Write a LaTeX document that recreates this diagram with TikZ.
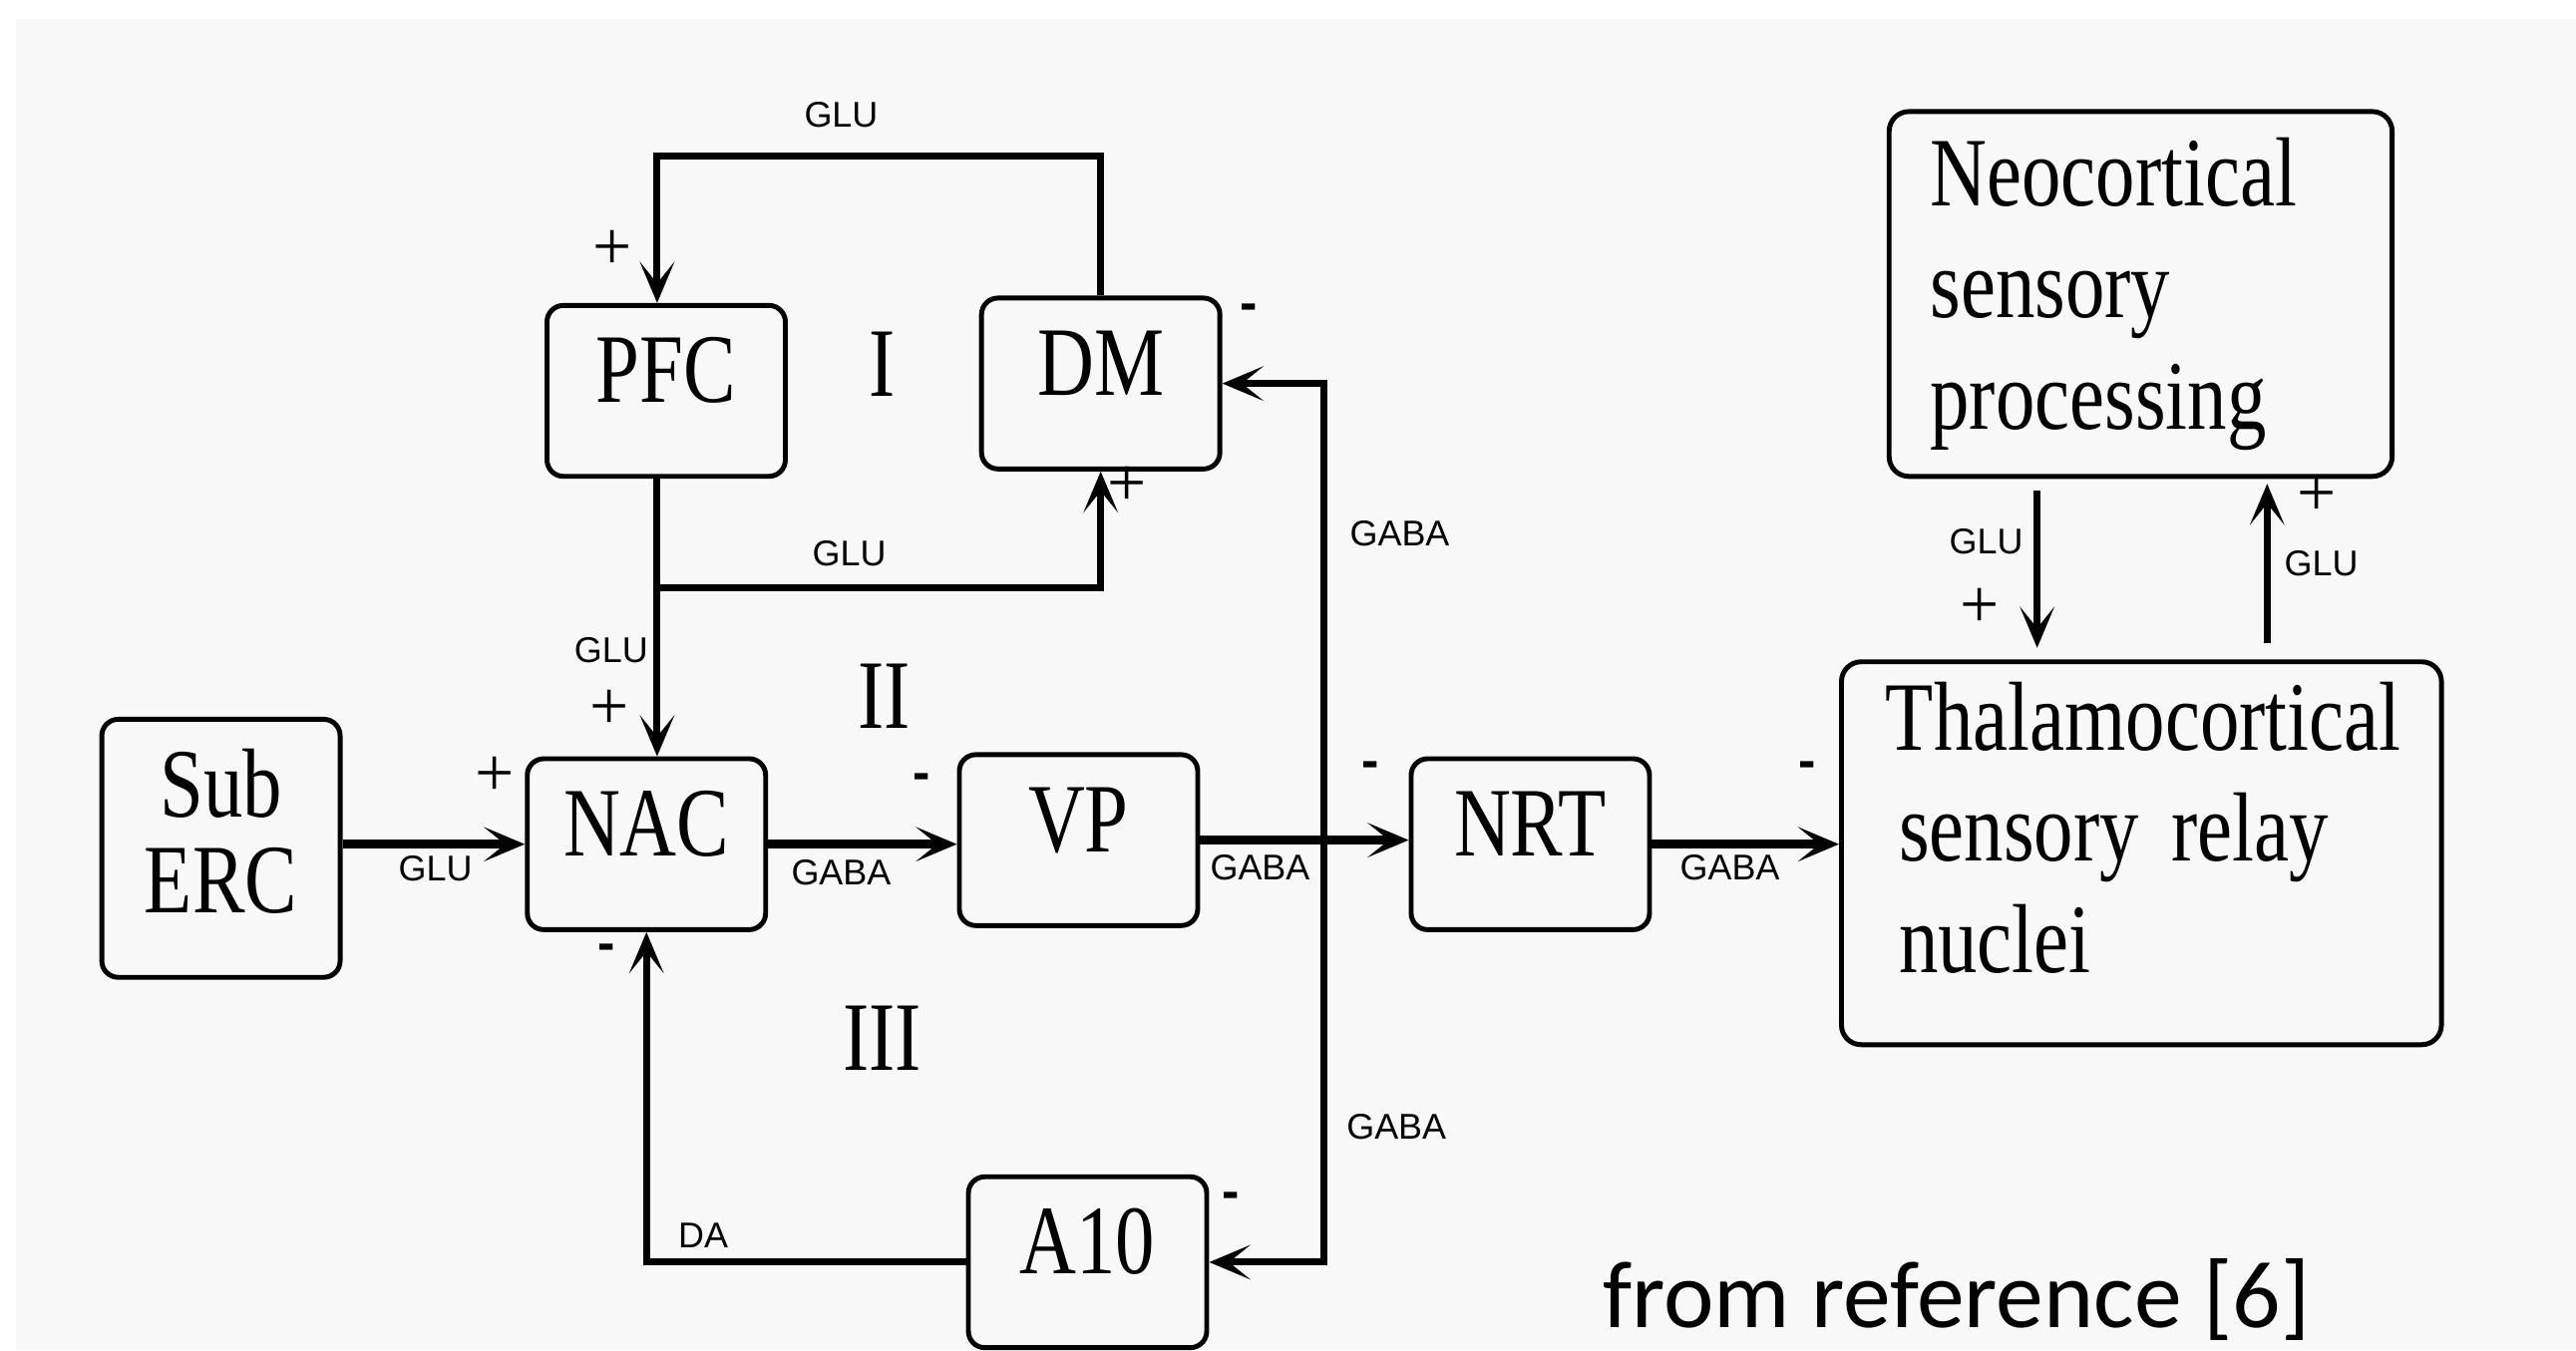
\documentclass[tikz,border=0pt]{standalone}
\usepackage{fontspec}
\setmainfont{Liberation Serif}
\newfontfamily\boxfont{Liberation Serif}[FakeStretch=0.8, WordSpace=0.5]
\newfontfamily\labfont{Liberation Sans}
\newfontfamily\notefont{Carlito}
\usetikzlibrary{arrows.meta}
\definecolor{paper}{HTML}{F8F8F8}

\begin{document}
\begin{tikzpicture}[x=0.01cm, y=-0.01cm,
  box/.style={draw, line width=0.85pt, rounded corners=0.1cm, inner sep=0pt,
    minimum width=1.45cm, minimum height=1.04cm,
    font=\boxfont\fontsize{17}{19.3}\selectfont, text height=12pt, text depth=8pt},
  bigbox/.style={draw, line width=0.85pt, rounded corners=0.12cm, inner ysep=0pt,
    font=\boxfont\fontsize{17}{19.3}\selectfont, align=left},
  roman/.style={font=\boxfont\fontsize{17}{19.3}\selectfont, inner sep=0pt},
  lab/.style={font=\labfont\fontsize{6.2}{7}\selectfont, inner sep=0pt},
  possign/.style={font=\fontsize{12}{13}\selectfont, inner sep=0pt},
  negsign/.style={font=\labfont\bfseries\fontsize{9}{10}\selectfont, inner sep=0pt},
  arr/.style={line width=1.2pt, -{Stealth[length=0.25cm, width=0.21cm, inset=0.13cm]}},
  harr/.style={arr, line width=1.6pt}]
  \fill[white] (0,0) rectangle (1568,822);
  \fill[paper] (10,11.5) rectangle (1568,822);
  \useasboundingbox (0,0) rectangle (1568,822);

  % boxes
  \node[box, minimum height=1.57cm, text width=1.45cm, align=center, font=\boxfont\fontsize{17}{16.5}\selectfont, text depth=22.7pt] (suberc) at (134.5,516.5) {Sub\\ERC};
  \node[box] (pfc) at (405.5,238) {PFC};
  \node[box] (dm) at (670,233.5) {DM};
  \node[box] (nac) at (393.5,514) {NAC};
  \node[box] (vp) at (656.5,511.5) {VP};
  \node[box] (nrt) at (931.5,514) {NRT};
  \node[box] (a10) at (662,768.5) {A10};
  \node[bigbox, minimum height=2.22cm, text width=2.56cm, inner xsep=0.25cm] (neo) at (1303,179) {Neocortical\\sensory\\processing};
  \node[bigbox, minimum height=2.33cm, text width=2.95cm, inner xsep=0.35cm, text depth=47.6pt] (thal) at (1303.5,519.5) {\hspace*{-0.08cm}\mbox{Thalamocortical}\\sensory relay\\nuclei};

  \node[roman] (loopI) at (537,222) {I};
  \node[roman] (loopII) at (538,424) {II};
  \node[roman] (loopIII) at (537,632) {III};

  % connectors
  \coordinate (looptop) at (400,95);
  \coordinate (split) at (400,358);
  \coordinate (gabav) at (806,511.5);
  \coordinate (neodown) at (1240,0);
  \coordinate (thalup) at (1380,0);
  \draw[arr] (dm.north) |- (looptop) -- (looptop |- pfc.north);
  \draw[arr] (split |- pfc.south) -- (split |- nac.north);
  \draw[arr] (split) -| (dm.south);
  \draw[harr] (nac.west -| suberc.east) -- (nac.west);
  \draw[harr] (nac.east) -- (nac.east -| vp.west);
  \draw[harr] (vp.east) -- (vp.east -| nrt.west);
  \draw[harr] (nrt.east) -- (nrt.east -| thal.west);
  \draw[arr] (gabav) |- (dm.east);
  \draw[arr] (gabav) |- (a10.east);
  \draw[arr] (a10.west) -| (nac.south);
  \draw[arr, shorten <=0.07cm, shorten >=0.07cm] (neodown |- neo.south) -- (neodown |- thal.north);
  \draw[arr, shorten <=0.1cm, shorten >=0.03cm] (thalup |- thal.north) -- (thalup |- neo.south);

  % transmitters
  \node[lab] (gluloop) at (512,70) {GLU};
  \node[lab] (glusplit) at (517,337) {GLU};
  \node[lab] (glunac) at (372,396) {GLU};
  \node[lab] (glusub) at (265,529) {GLU};
  \node[lab] (gabavp) at (512,531) {GABA};
  \node[lab] (gabanrt) at (767,528) {GABA};
  \node[lab] (gabathal) at (1053,528) {GABA};
  \node[lab] (gabadm) at (852,325) {GABA};
  \node[lab] (gabaa10) at (850,686) {GABA};
  \node[lab] (da) at (428,752) {DA};
  \node[lab] (gluneo) at (1209,330) {GLU};
  \node[lab] (gluthal) at (1413,343) {GLU};

  % signs
  \node[possign] (pospfc) at (373,152) {+};
  \node[possign] (posdm) at (686,296) {+};
  \node[possign] (posnac) at (371,432) {+};
  \node[possign] (possub) at (301,473) {+};
  \node[possign] (posthal) at (1205,370) {+};
  \node[possign] (posneo) at (1410,302) {+};
  \node[negsign] (negdm) at (760,190) {-};
  \node[negsign] (negvp) at (561,476) {-};
  \node[negsign] (negnrt) at (834,469) {-};
  \node[negsign] (negthal) at (1100,469) {-};
  \node[negsign] (negnac) at (369,580) {-};
  \node[negsign] (nega10) at (749,731) {-};

  \node[font=\notefont\fontsize{16.5}{19}\selectfont, anchor=base west, inner sep=0pt] (source) at (975,808) {from reference [6]};
\end{tikzpicture}
\end{document}
